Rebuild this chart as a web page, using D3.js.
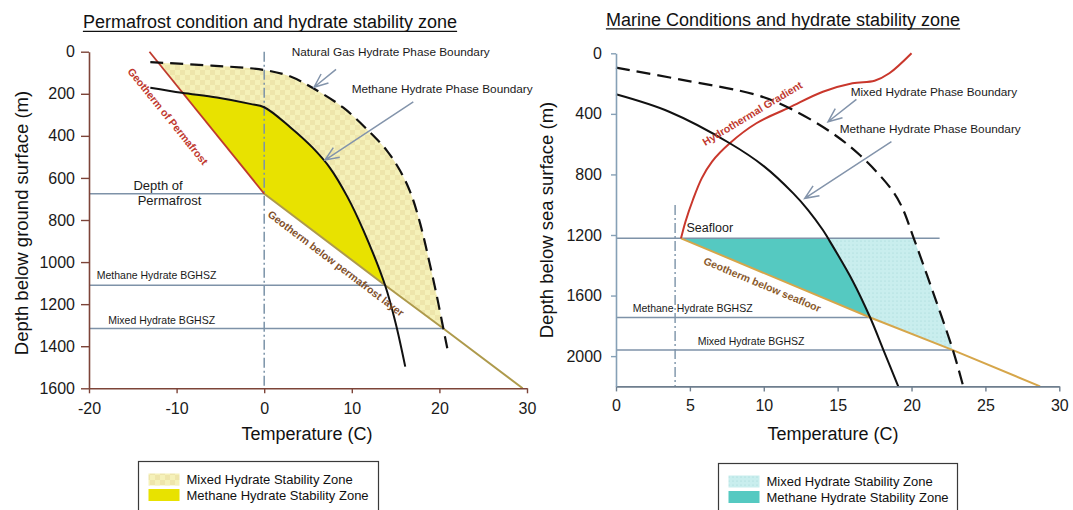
<!DOCTYPE html>
<html lang="en">
<head>
<meta charset="UTF-8">
<title>Hydrate stability zones</title>
<script src="https://cdn.jsdelivr.net/npm/d3@7"></script>
<style>
  * { margin: 0; padding: 0; }
  body { background: #fff; width: 1073px; height: 510px; overflow: hidden; }
  svg { display: block; font-family: 'Liberation Sans', Arial, sans-serif; }
</style>
</head>
<body>
<svg width="1073" height="510"></svg>
<script>
// Values: [temperature (C), depth (m)]

// Permafrost panel
const permTempTicks = [-20, -10, 0, 10, 20, 30];
const permDepthTicks = [0, 200, 400, 600, 800, 1000, 1200, 1400, 1600];
const permGeotherm = [[-13.1, 0], [0, 675]];
const permGeothermBelow = [[0, 675], [13.8, 1110], [20.45, 1316], [29.5, 1600]];
const permGasBoundary = [[-13, 50], [-6, 66], [0, 87], [3, 118], [5.6, 174], [9, 265], [12, 380], [14, 470], [15.5, 565], [16.7, 670], [17.8, 816], [18.8, 990], [19.7, 1160], [20.45, 1316], [20.9, 1410]];
const permMethaneBoundary = [[-13, 171], [-9.4, 195], [-5.4, 218], [-1.6, 248], [0, 264], [3, 360], [5.5, 455], [7.5, 552], [9.5, 690], [11.3, 847], [13.8, 1110], [15, 1290], [16.1, 1497]];
const permLevels = [
  { name: 'Depth of Permafrost', depth: 675, tEnd: 0 },
  { name: 'Methane Hydrate BGHSZ', depth: 1110, tEnd: 13.8 },
  { name: 'Mixed Hydrate BGHSZ', depth: 1316, tEnd: 20.45 }
];
// where the phase boundaries meet the permafrost geotherm
const permMixedTop = -12.1;
const permMethaneTop = -9.3;

// Marine panel
const marTempTicks = [0, 5, 10, 15, 20, 25, 30];
const marDepthTicks = [0, 400, 800, 1200, 1600, 2000];
const marGradient = [[4.4, 1222], [4.7, 1112], [5.2, 969], [5.8, 826], [6.5, 715], [7.7, 594], [9.5, 462], [11.75, 357], [14, 254], [16, 198], [17.5, 181], [18.5, 132], [20, 0]];
const marGeotherm = [[4.4, 1222], [17.2, 1745], [22.8, 1960], [28.7, 2200]];
const marMixedBoundary = [[0, 95], [4.3, 172], [9.5, 275], [11.75, 363], [14.5, 518], [16.5, 672], [18.5, 881], [19.3, 1005], [20.15, 1222], [21.5, 1590], [22.8, 1960], [23.5, 2200]];
const marMethaneBoundary = [[0, 271], [3.6, 386], [7.7, 594], [10, 745], [12, 925], [13, 1035], [14, 1167], [14.35, 1222], [16, 1500], [17.2, 1745], [18.1, 1960], [19.1, 2200]];
const marLevels = [
  { name: 'Seafloor', depth: 1222, tEnd: 21.9 },
  { name: 'Methane Hydrate BGHSZ', depth: 1745, tEnd: 17.2 },
  { name: 'Mixed Hydrate BGHSZ', depth: 1960, tEnd: 22.8 }
];
const marSeafloorMark = [4, 1002];   // dash-dot line from this depth down

const legendItems = ['Mixed Hydrate Stability Zone', 'Methane Hydrate Stability Zone'];

// ---------------------------------------------------------------

const svg = d3.select('svg');

const px = d3.scaleLinear().domain([-20, 30]).range([89, 527]);
const py = d3.scaleLinear().domain([0, 1600]).range([51.7, 388.3]);
const mx = d3.scaleLinear().domain([0, 30]).range([616, 1059.3]);
const my = d3.scaleLinear().domain([0, 2200]).range([53.3, 386.4]);

// patterns for the mixed zones
const defs = svg.append('defs');
const patY = defs.append('pattern').attr('id', 'mixY')
  .attr('width', 10).attr('height', 10).attr('patternUnits', 'userSpaceOnUse');
patY.append('rect').attr('width', 10).attr('height', 10).attr('fill', '#f5f1b9');
patY.append('rect').attr('width', 5).attr('height', 5).attr('fill', '#e8dba0').attr('opacity', 0.55);
patY.append('rect').attr('x', 5).attr('y', 5).attr('width', 5).attr('height', 5).attr('fill', '#e8dba0').attr('opacity', 0.55);
const patC = defs.append('pattern').attr('id', 'mixC')
  .attr('width', 4).attr('height', 4).attr('patternUnits', 'userSpaceOnUse');
patC.append('rect').attr('width', 4).attr('height', 4).attr('fill', '#c9eeee');
patC.append('circle').attr('cx', 1).attr('cy', 1).attr('r', 0.6).attr('fill', '#9fd4d4');

function interp(line, t) {
  for (let i = 1; i < line.length; i++) {
    const [t0, d0] = line[i - 1], [t1, d1] = line[i];
    if (t <= t1) return d0 + (d1 - d0) * (t - t0) / (t1 - t0);
  }
  return line[line.length - 1][1];
}
function seg(line, a, b) {
  const pts = line.filter(p => p[0] > a && p[0] < b);
  return [[a, interp(line, a)], ...pts, [b, interp(line, b)]];
}
const curved = (x, y) => d3.line().x(d => x(d[0])).y(d => y(d[1])).curve(d3.curveCatmullRom.alpha(0.5));
const straight = (x, y) => d3.line().x(d => x(d[0])).y(d => y(d[1]));
const cont = s => s.replace('M', 'L');

function arrow(x, y, from, to) {
  const x0 = x(from[0]), y0 = y(from[1]), x1 = x(to[0]), y1 = y(to[1]);
  const a = Math.atan2(y0 - y1, x0 - x1), L = 15, w = 0.4;
  svg.append('path')
    .attr('d', `M${x0},${y0}L${x1},${y1}M${x1 + L * Math.cos(a - w)},${y1 + L * Math.sin(a - w)}L${x1},${y1}L${x1 + L * Math.cos(a + w)},${y1 + L * Math.sin(a + w)}`)
    .attr('fill', 'none').attr('stroke', '#8394ab').attr('stroke-width', 1.5);
}

function note(x, y, t, d, text, size, anchor) {
  svg.append('text').attr('x', x(t)).attr('y', y(d))
    .attr('font-size', size).attr('fill', '#1a1a1a')
    .attr('text-anchor', anchor || 'start').text(text);
}

// label centred on a line, rotated to its slope, shifted off it by `off` px
function alongText(x, y, line, t, off, text, color) {
  const xa = x(t - 1), ya = y(interp(line, t - 1)), xb = x(t + 1), yb = y(interp(line, t + 1));
  const a = Math.atan2(yb - ya, xb - xa);
  const cx = x(t) - off * Math.sin(a), cy = y(interp(line, t)) + off * Math.cos(a);
  svg.append('text')
    .attr('transform', `translate(${cx},${cy}) rotate(${a * 180 / Math.PI})`)
    .attr('text-anchor', 'middle').attr('dominant-baseline', 'central')
    .attr('font-size', 10.5).attr('font-weight', 'bold').attr('fill', color)
    .text(text);
}

function title(cx, base, text) {
  const t = svg.append('text').attr('x', cx).attr('y', base).attr('text-anchor', 'middle')
    .attr('font-size', 18).attr('fill', '#111').text(text);
  const w = t.node().getComputedTextLength();
  svg.append('line').attr('x1', cx - w / 2).attr('x2', cx + w / 2)
    .attr('y1', base + 3.3).attr('y2', base + 3.3).attr('stroke', '#111').attr('stroke-width', 1.3);
}

function axes(x, y, xTicks, yTicks, o) {
  const gx = svg.append('g').attr('transform', `translate(0,${y.range()[1]})`)
    .call(d3.axisBottom(x).tickValues(xTicks).tickFormat(d => String(d))
      .tickSize(5).tickSizeOuter(0).tickPadding(o.xPad));
  const gy = svg.append('g').attr('transform', `translate(${x.range()[0]},0)`)
    .call(d3.axisLeft(y).tickValues(yTicks).tickFormat(d => String(d))
      .tickSize(o.ySize).tickSizeOuter(0).tickPadding(o.yPad));
  [[gx, o.xColor], [gy, o.yColor]].forEach(([g, c]) => {
    g.attr('font-size', 16).attr('font-family', null);
    g.select('.domain').attr('stroke', c).attr('stroke-width', 1.6);
    g.selectAll('.tick line').attr('stroke', c).attr('stroke-width', 1.4);
    g.selectAll('.tick text').attr('fill', '#1a1a1a');
  });
}

function yLabel(xBase, cy, text) {
  svg.append('text').attr('transform', `translate(${xBase},${cy}) rotate(-90)`)
    .attr('text-anchor', 'middle').attr('font-size', 18.5).attr('fill', '#111').text(text);
}

function legend(x0, y0, w, fills) {
  svg.append('rect').attr('x', x0).attr('y', y0).attr('width', w).attr('height', 70)
    .attr('fill', '#fff').attr('stroke', '#3a3a3a').attr('stroke-width', 1.2);
  legendItems.forEach((name, i) => {
    svg.append('rect').attr('x', x0 + 10).attr('y', y0 + 12 + i * 15.5)
      .attr('width', 31).attr('height', 12).attr('fill', fills[i]);
    svg.append('text').attr('x', x0 + 48).attr('y', y0 + 22 + i * 16)
      .attr('font-size', 13).attr('fill', '#111').text(name);
  });
}

// ---------------- Permafrost panel ----------------
{
  const lc = curved(px, py), ls = straight(px, py);

  svg.append('path').attr('fill', 'url(#mixY)')
    .attr('d', lc(seg(permGasBoundary, permMixedTop, 20.45)) +
      cont(ls(seg(permGeothermBelow, 0, 20.45).reverse())) +
      cont(ls(seg(permGeotherm, permMixedTop, 0).reverse())) + 'Z');
  svg.append('path').attr('fill', '#e8e200')
    .attr('d', lc(seg(permMethaneBoundary, permMethaneTop, 13.8)) +
      cont(ls(seg(permGeothermBelow, 0, 13.8).reverse())) +
      cont(ls(seg(permGeotherm, permMethaneTop, 0).reverse())) + 'Z');

  svg.append('line').attr('x1', px(0)).attr('x2', px(0)).attr('y1', py(0)).attr('y2', py(1600))
    .attr('stroke', '#7b93a8').attr('stroke-width', 1.5).attr('stroke-dasharray', '10,3,2,3');

  svg.selectAll('.permLevel').data(permLevels).enter().append('line')
    .attr('x1', px(-20)).attr('x2', d => px(d.tEnd))
    .attr('y1', d => py(d.depth)).attr('y2', d => py(d.depth))
    .attr('stroke', '#7e92a8').attr('stroke-width', 1.6);

  svg.append('path').attr('d', ls(permGeothermBelow)).attr('fill', 'none')
    .attr('stroke', '#ae9a4c').attr('stroke-width', 2);
  svg.append('path').attr('d', ls(permGeotherm)).attr('fill', 'none')
    .attr('stroke', '#bf3a2e').attr('stroke-width', 1.8);
  svg.append('path').attr('d', lc(permMethaneBoundary)).attr('fill', 'none')
    .attr('stroke', '#111').attr('stroke-width', 2);
  svg.append('path').attr('d', lc(permGasBoundary)).attr('fill', 'none')
    .attr('stroke', '#111').attr('stroke-width', 2.2).attr('stroke-dasharray', '13,7');

  alongText(px, py, permGeotherm, -8.66, 26, 'Geotherm of Permafrost', '#c0392f');
  alongText(px, py, permGeothermBelow, 9.03, 12, 'Geotherm below permafrost layer', '#7f4f2a');

  note(px, py, 3.14, 20, 'Natural Gas Hydrate Phase Boundary', 11.8);
  note(px, py, 9.99, 196, 'Methane Hydrate Phase Boundary', 11.8);
  note(px, py, -12.12, 657, 'Depth of', 13, 'middle');
  note(px, py, -10.81, 729, 'Permafrost', 13, 'middle');
  note(px, py, -19.12, 1082, 'Methane Hydrate BGHSZ', 10.5);
  note(px, py, -17.8, 1294, 'Mixed Hydrate BGHSZ', 10.5);
  arrow(px, py, [8.2, 84], [5.69, 169]);
  arrow(px, py, [17.02, 238], [6.94, 515]);

  axes(px, py, permTempTicks, permDepthTicks,
    { xPad: 9, ySize: 8, yPad: 6, xColor: '#7d4438', yColor: '#7d4438' });
  title(270, 28, 'Permafrost condition and hydrate stability zone');
  yLabel(28, 223, 'Depth below ground surface (m)');
  svg.append('text').attr('x', 307).attr('y', 440).attr('text-anchor', 'middle')
    .attr('font-size', 18).attr('fill', '#111').text('Temperature (C)');
  legend(138.5, 461.5, 240, ['url(#mixY)', '#e8e200']);
}

// ---------------- Marine panel ----------------
{
  const lc = curved(mx, my), ls = straight(mx, my);
  const sea = marGeotherm[0];

  svg.append('path').attr('fill', 'url(#mixC)')
    .attr('d', `M${mx(sea[0])},${my(sea[1])}` +
      cont(lc(seg(marMixedBoundary, 20.15, 22.8))) +
      cont(ls(seg(marGeotherm, sea[0], 22.8).reverse())) + 'Z');
  svg.append('path').attr('fill', '#55c9c1')
    .attr('d', `M${mx(sea[0])},${my(sea[1])}` +
      cont(lc(seg(marMethaneBoundary, 14.35, 17.2))) +
      cont(ls(seg(marGeotherm, sea[0], 17.2).reverse())) + 'Z');

  svg.append('line').attr('x1', mx(marSeafloorMark[0])).attr('x2', mx(marSeafloorMark[0]))
    .attr('y1', my(marSeafloorMark[1])).attr('y2', my(2200))
    .attr('stroke', '#7b93a8').attr('stroke-width', 1.4).attr('stroke-dasharray', '10,3,2,3');

  svg.selectAll('.marLevel').data(marLevels).enter().append('line')
    .attr('x1', mx(0)).attr('x2', d => mx(d.tEnd))
    .attr('y1', d => my(d.depth)).attr('y2', d => my(d.depth))
    .attr('stroke', '#7e92a8').attr('stroke-width', 1.6);

  svg.append('path').attr('d', ls(marGeotherm)).attr('fill', 'none')
    .attr('stroke', '#d6a64a').attr('stroke-width', 2);
  svg.append('path').attr('d', lc(marGradient)).attr('fill', 'none')
    .attr('stroke', '#c9372c').attr('stroke-width', 2);
  svg.append('path').attr('d', lc(marMethaneBoundary)).attr('fill', 'none')
    .attr('stroke', '#111').attr('stroke-width', 2);
  svg.append('path').attr('d', lc(marMixedBoundary)).attr('fill', 'none')
    .attr('stroke', '#111').attr('stroke-width', 2.2).attr('stroke-dasharray', '14,7');

  alongText(mx, my, marGradient, 9.6, -11, 'Hydrothermal Gradient', '#c0392f');
  alongText(mx, my, marGeotherm, 10.2, 11, 'Geotherm below seafloor', '#8a5a2c');

  note(mx, my, 15.88, 280, 'Mixed Hydrate Phase Boundary', 11.8);
  note(mx, my, 15.14, 528, 'Methane Hydrate Phase Boundary', 11.8);
  note(mx, my, 4.77, 1180, 'Seafloor', 12.5);
  note(mx, my, 1.13, 1711, 'Methane', 10.5);
  note(mx, my, 4.11, 1711, 'Hydrate BGHSZ', 10.5);
  note(mx, my, 5.53, 1927, 'Mixed Hydrate BGHSZ', 10.5);
  arrow(mx, my, [16.27, 304], [14.35, 452]);
  arrow(mx, my, [18.64, 584], [12.77, 958]);

  axes(mx, my, marTempTicks, marDepthTicks,
    { xPad: 8, ySize: 5, yPad: 9, xColor: '#6e7e8e', yColor: '#86a0b6' });
  title(783, 25.5, 'Marine Conditions and hydrate stability zone');
  yLabel(553, 220, 'Depth below sea surface (m)');
  svg.append('text').attr('x', 833).attr('y', 440).attr('text-anchor', 'middle')
    .attr('font-size', 18).attr('fill', '#111').text('Temperature (C)');
  legend(718.5, 463.5, 239, ['url(#mixC)', '#55c9c1']);
}
</script>
</body>
</html>
